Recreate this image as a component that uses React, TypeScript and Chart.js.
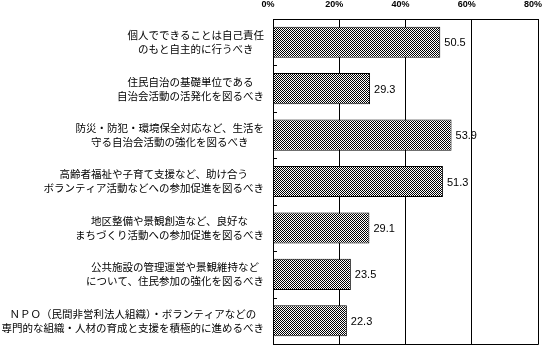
import React, { useEffect, useRef } from 'react';
import { Chart, registerables } from 'chart.js';
Chart.register(...registerables);

const categories: string[][] = [
  ['個人でできることは自己責任', 'のもと自主的に行うべき'],
  ['住民自治の基礎単位である', '自治会活動の活発化を図るべき'],
  ['防災・防犯・環境保全対応など、生活を', '守る自治会活動の強化を図るべき'],
  ['高齢者福祉や子育て支援など、助け合う', 'ボランティア活動などへの参加促進を図るべき'],
  ['地区整備や景観創造など、良好な', 'まちづくり活動への参加促進を図るべき'],
  ['公共施設の管理運営や景観維持など', 'について、住民参加の強化を図るべき'],
  ['ＮＰＯ（民間非営利法人組織）・ボランティアなどの', '専門的な組織・人材の育成と支援を積極的に進めるべき'],
];
const values: number[] = [50.5, 29.3, 53.9, 51.3, 29.1, 23.5, 22.3];
const xMin = 0;
const xMax = 80;
const xStep = 20;

const JP_FONT = '10.5px "Noto Sans CJK JP", sans-serif';
const VAL_FONT = '11px "Liberation Sans", Arial, sans-serif';

const decorPlugin = {
  id: 'decor',
  afterDraw(chart: any) {
    const ctx = chart.ctx as CanvasRenderingContext2D;
    const area = chart.chartArea;
    const xs = chart.scales.x;
    const ys = chart.scales.y;
    ctx.save();
    // frame
    ctx.strokeStyle = '#000';
    ctx.lineWidth = 1;
    ctx.beginPath();
    ctx.rect(Math.round(area.left) + 0.5, Math.round(area.top) + 0.5,
      Math.round(area.right - area.left), Math.round(area.bottom - area.top));
    ctx.stroke();
    // inner ticks at category boundaries
    ctx.beginPath();
    for (let i = 0; i < categories.length - 1; i++) {
      const y = Math.round((ys.getPixelForValue(i) + ys.getPixelForValue(i + 1)) / 2) + 0.5;
      ctx.moveTo(area.left, y);
      ctx.lineTo(area.left + 4, y);
    }
    ctx.stroke();
    // category labels: block right-aligned, lines centered
    ctx.fillStyle = '#000';
    ctx.font = JP_FONT;
    ctx.textBaseline = 'middle';
    ctx.textAlign = 'center';
    const rightEdge = area.left - 9;
    categories.forEach((lines, i) => {
      const yc = ys.getPixelForValue(i);
      const w = Math.max(...lines.map((l) => ctx.measureText(l).width));
      const cx = rightEdge - w / 2;
      const lh = 14;
      lines.forEach((l, j) => {
        ctx.fillText(l, cx, yc + (j - (lines.length - 1) / 2) * lh);
      });
    });
    // value labels
    ctx.font = VAL_FONT;
    ctx.textAlign = 'left';
    values.forEach((v, i) => {
      ctx.fillText(v.toFixed(1), xs.getPixelForValue(v) + 4, ys.getPixelForValue(i) + 1);
    });
    ctx.restore();
  },
};

export default function App() {
  const ref = useRef<HTMLCanvasElement | null>(null);
  useEffect(() => {
    document.body.style.margin = '0';
    const canvas = ref.current!;
    const ctx = canvas.getContext('2d')!;
    const pc = document.createElement('canvas');
    pc.width = 2;
    pc.height = 2;
    const p = pc.getContext('2d')!;
    p.fillStyle = '#fff';
    p.fillRect(0, 0, 2, 2);
    p.fillStyle = '#000';
    p.fillRect(0, 0, 1, 1);
    p.fillRect(1, 1, 1, 1);
    const pattern = ctx.createPattern(pc, 'repeat')!;

    const chart = new Chart(canvas, {
      type: 'bar',
      data: {
        labels: categories.map((c) => c.join('')),
        datasets: [
          {
            data: values,
            backgroundColor: pattern as any,
            borderColor: '#000',
            borderWidth: 1,
            barPercentage: 0.67,
            categoryPercentage: 1,
          },
        ],
      },
      options: {
        indexAxis: 'y',
        animation: false,
        responsive: false,
        layout: { padding: { left: 0, right: 9, top: 0, bottom: 2 } },
        plugins: { legend: { display: false }, tooltip: { enabled: false } },
        scales: {
          x: {
            position: 'top',
            min: xMin,
            max: xMax,
            ticks: {
              stepSize: xStep,
              callback: (v: any) => v + '%',
              color: '#000',
              font: { family: '"Liberation Sans", Arial, sans-serif', size: 9, weight: 'bold' },
              padding: 0,
              labelOffset: -5,
            },
            grid: { color: '#000', lineWidth: 1, drawTicks: true, tickLength: 9, tickColor: 'rgba(0,0,0,0)' },
            border: { display: true, color: '#000' },
            afterFit: (s: any) => { s.height = 19; s.paddingLeft = 0; s.paddingRight = 0; },
          },
          y: {
            ticks: { display: false },
            grid: { display: false },
            border: { display: true, color: '#000' },
            afterFit: (s: any) => { s.width = 273; s.paddingTop = 0; s.paddingBottom = 0; },
          },
        },
      },
      plugins: [decorPlugin],
    });
    return () => chart.destroy();
  }, []);
  return <canvas ref={ref} width={547} height={346} style={{ display: 'block' }} />;
}
